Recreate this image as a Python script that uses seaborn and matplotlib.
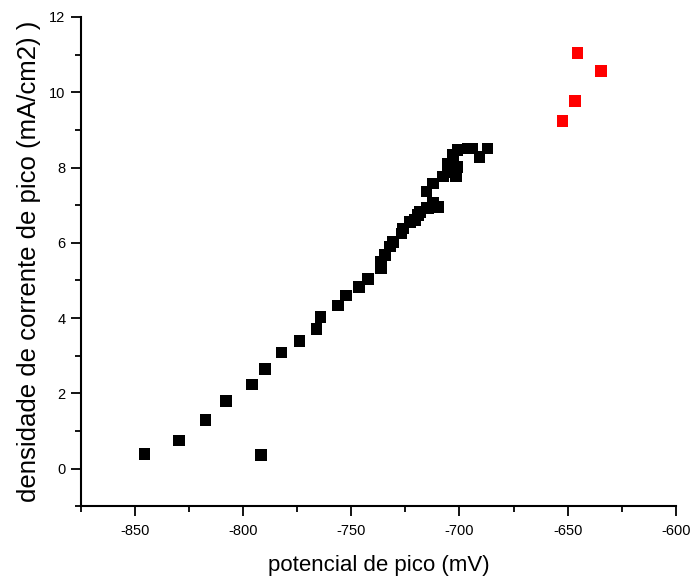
import pandas as pd
import matplotlib
matplotlib.use("Agg")
import matplotlib.pyplot as plt
import seaborn as sns
from matplotlib.ticker import MultipleLocator

# potencial de pico (mV) / densidade de corrente (mA/cm2)
black_x = [-845.6, -829.5, -817.4, -807.8, -791.7, -796.0, -789.9, -782.2, -773.9, -766.0,
           -764.2, -756.1, -752.3, -746.3, -742.2, -736.4, -736.4, -734.4, -732.1, -730.6,
           -726.8, -726.0, -723.0, -720.6, -719.1, -718.3, -715.3, -714.5, -712.3, -709.9,
           -715.3, -712.3, -707.7, -705.4, -701.6, -700.9, -705.4, -703.1, -700.9, -696.3,
           -694.0, -690.8, -687.0]
black_y = [0.39, 0.75, 1.30, 1.80, 0.37, 2.24, 2.65, 3.09, 3.40, 3.71,
           4.03, 4.33, 4.60, 4.82, 5.04, 5.32, 5.50, 5.68, 5.90, 6.03,
           6.25, 6.38, 6.56, 6.60, 6.74, 6.82, 6.92, 6.92, 7.05, 6.96,
           7.36, 7.58, 7.76, 7.89, 7.76, 8.02, 8.11, 8.33, 8.46, 8.51,
           8.51, 8.28, 8.51]
red_x = [-645.4, -634.5, -646.5, -652.3]
red_y = [11.04, 10.57, 9.77, 9.24]

df = pd.DataFrame({
    "x": black_x + red_x,
    "y": black_y + red_y,
    "grupo": ["a"] * len(black_x) + ["b"] * len(red_x),
})

sns.set_style("ticks", {"axes.edgecolor": "black", "xtick.color": "black",
                        "ytick.color": "black", "text.color": "black",
                        "axes.labelcolor": "black"})
plt.rcParams["font.family"] = ["Liberation Sans", "DejaVu Sans"]
plt.rcParams["axes.unicode_minus"] = False

fig = plt.figure(figsize=(6.91, 5.86), dpi=100)
ax = fig.add_axes([0.117, 0.136, 0.861, 0.835])
sns.scatterplot(data=df, x="x", y="y", hue="grupo", palette={"a": "black", "b": "red"},
                marker="s", s=70, linewidth=0, legend=False, ax=ax)

ax.set_xlim(-875, -600)
ax.set_ylim(-1, 12)
ax.xaxis.set_major_locator(MultipleLocator(50))
ax.xaxis.set_minor_locator(MultipleLocator(25))
ax.yaxis.set_major_locator(MultipleLocator(2))
ax.yaxis.set_minor_locator(MultipleLocator(1))
ax.set_yticks([0, 2, 4, 6, 8, 10, 12])
ax.tick_params(which="major", length=7, width=1.3, labelsize=10.5, direction="out")
ax.tick_params(axis="x", which="major", pad=6)
ax.tick_params(axis="y", which="major", pad=4)
ax.tick_params(which="minor", length=4, width=1.3, direction="out")
sns.despine(ax=ax)
for sp in ("left", "bottom"):
    ax.spines[sp].set_linewidth(1.5)

ax.set_xlabel("potencial de pico (mV)", fontsize=16, labelpad=12)
ax.set_ylabel("densidade de corrente de pico (mA/cm2) )", fontsize=18.5, labelpad=6)

fig.savefig("out.png", dpi=100)
